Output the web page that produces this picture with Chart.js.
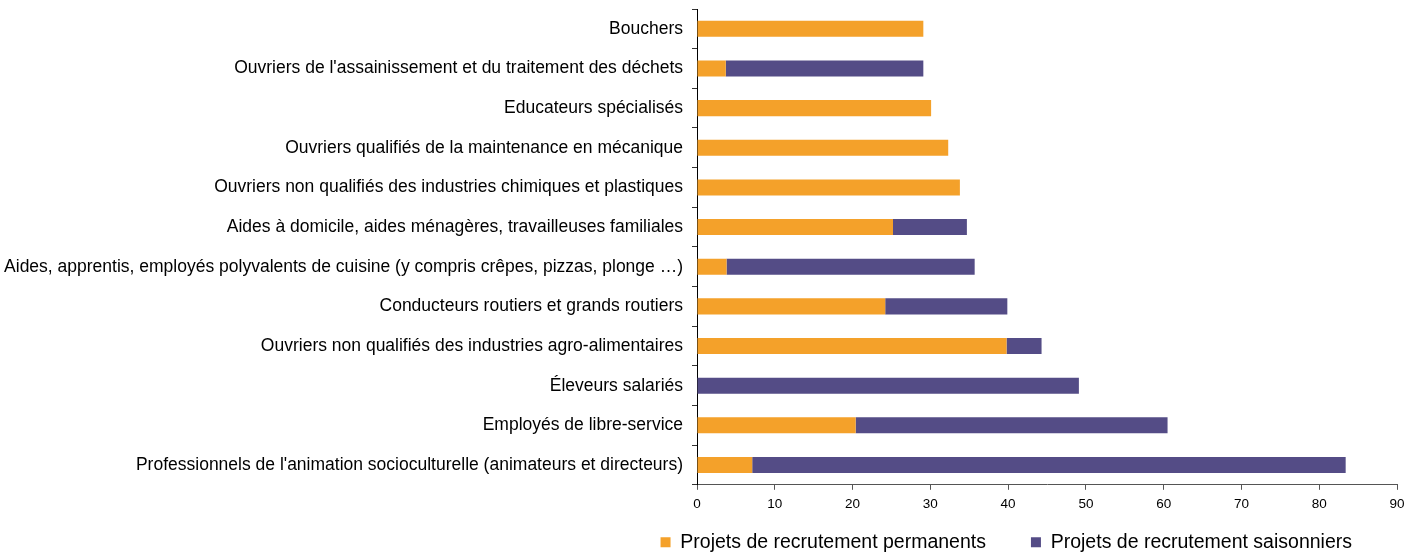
<!DOCTYPE html>
<html><head><meta charset="utf-8">
<script src="https://cdn.jsdelivr.net/npm/chart.js@4/dist/chart.umd.min.js"></script>
<style>html,body{margin:0;padding:0;background:#fff}#w{width:1421px;height:553px}</style>
</head><body><div id="w"><canvas id="c"></canvas></div>
<script>
const categories = [
  "Bouchers",
  "Ouvriers de l'assainissement et du traitement des déchets",
  "Educateurs spécialisés",
  "Ouvriers qualifiés de la maintenance en mécanique",
  "Ouvriers non qualifiés des industries chimiques et plastiques",
  "Aides à domicile, aides ménagères, travailleuses familiales",
  "Aides, apprentis, employés polyvalents de cuisine (y compris crêpes, pizzas, plonge …)",
  "Conducteurs routiers et grands routiers",
  "Ouvriers non qualifiés des industries agro-alimentaires",
  "Éleveurs salariés",
  "Employés de libre-service",
  "Professionnels de l'animation socioculturelle (animateurs et directeurs)"
];
const permanents = [29.1, 3.7, 30.1, 32.3, 33.8, 25.2, 3.8, 24.2, 39.8, 0, 20.4, 7.1];
const saisonniers = [0, 25.4, 0, 0, 0, 9.5, 31.9, 15.7, 4.5, 49.1, 40.1, 76.3];
const seriesNames = ["Projets de recrutement permanents", "Projets de recrutement saisonniers"];
const xTicks = [0, 10, 20, 30, 40, 50, 60, 70, 80, 90];

Chart.defaults.font.family = "'Liberation Sans', Arial, sans-serif";
Chart.defaults.color = "#000";

const legendPlace = {
  id: 'legendPlace',
  afterLayout(chart) {
    const lg = chart.legend;
    lg.top = 487.5;
    lg.bottom = lg.top + 80;
    lg.height = 80;
  }
};

new Chart(document.getElementById('c'), {
  type: 'bar',
  data: {
    labels: categories,
    datasets: [
      {label: seriesNames[0], data: permanents, backgroundColor: '#F4A12A', borderWidth: 0, barPercentage: 0.81, categoryPercentage: 0.5},
      {label: seriesNames[1], data: saisonniers, backgroundColor: '#544C86', borderWidth: 0, barPercentage: 0.81, categoryPercentage: 0.5}
    ]
  },
  plugins: [legendPlace],
  options: {
    indexAxis: 'y',
    responsive: true,
    maintainAspectRatio: false,
    animation: false,
    layout: {padding: {top: 9, right: 24, left: 0, bottom: 0}},
    plugins: {
      tooltip: {enabled: false},
      legend: {
        position: 'bottom',
        align: 'end',
        maxHeight: 35,
        labels: {
          boxWidth: 10, boxHeight: 10, padding: 45,
          font: {size: 19.5},
          color: '#000'
        }
      }
    },
    scales: {
      x: {
        stacked: true, min: 0, max: 90,
        afterBuildTicks: s => { s.ticks = xTicks.map(v => ({value: v})); },
        border: {display: true, color: '#555', width: 1},
        grid: {display: true, drawOnChartArea: false, drawTicks: true, tickLength: 5, color: '#555'},
        ticks: {font: {size: 13.5}, padding: 6, color: '#000', maxRotation: 0}
      },
      y: {
        stacked: true,
        afterFit: s => { s.width = 697; s.paddingTop = 0; s.paddingBottom = 0; },
        border: {display: true, color: '#000', width: 1},
        grid: {display: true, offset: true, drawOnChartArea: false, drawTicks: true, tickLength: 5, color: '#333'},
        ticks: {font: {size: 17.5}, padding: 9, color: '#000', autoSkip: false}
      }
    }
  }
});
</script></body></html>
